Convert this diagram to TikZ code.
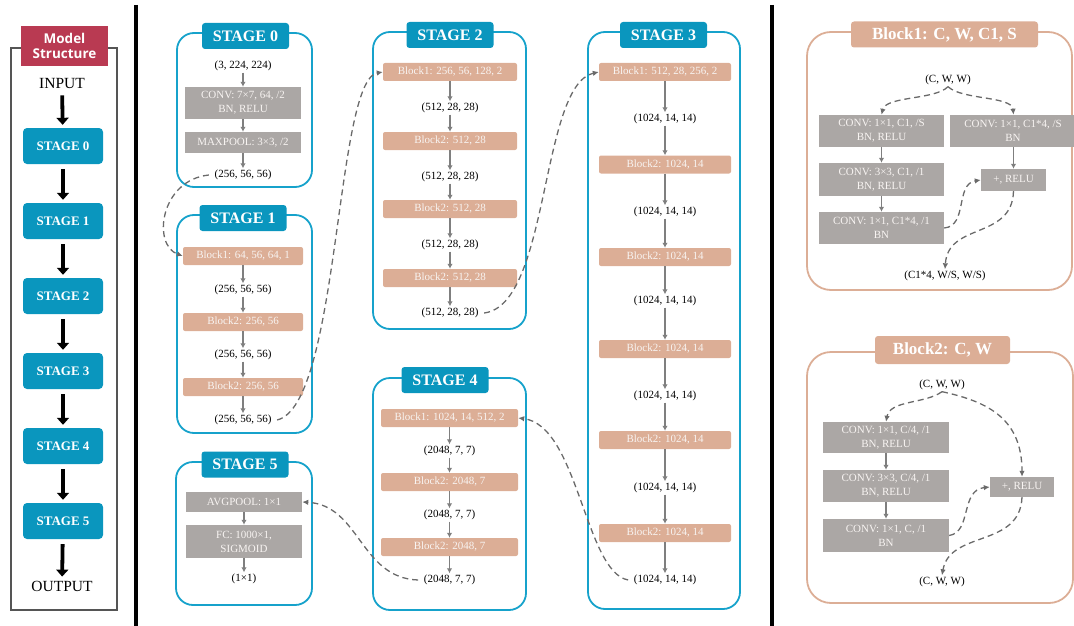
\documentclass[tikz,border=0pt]{standalone}
\usepackage{fontspec}
\setmainfont{Liberation Serif}
\newfontfamily\titlesans{Open Sans}
\usetikzlibrary{arrows.meta}
\definecolor{tealtab}{HTML}{0A96BE}
\definecolor{tealline}{HTML}{16A2CB}
\definecolor{salmon}{HTML}{DCAE96}
\definecolor{boxgray}{HTML}{ABA7A5}
\definecolor{crimson}{HTML}{B93A52}
\definecolor{framegray}{HTML}{555555}
\definecolor{argray}{HTML}{7F7F7F}
\definecolor{dashgray}{HTML}{6A6A6A}
\definecolor{boxtext}{HTML}{F8F4F2}
\begin{document}
\begin{tikzpicture}[x=1pt,y=-1pt,
  stagefr/.style={draw=tealline, line width=1.8pt, rounded corners=17pt, inner sep=0},
  blockfr/.style={draw=salmon, line width=1.8pt, rounded corners=24pt, inner sep=0},
  stagetab/.style={fill=tealtab, rounded corners=3pt, text=white, inner sep=0,
     minimum width=87, minimum height=26, font=\bfseries\fontsize{16}{18}\selectfont},
  blocktab/.style={fill=salmon, rounded corners=3pt, text=white, inner sep=0,
     minimum height=26, font=\bfseries\fontsize{17}{19}\selectfont},
  blk/.style={fill=salmon, rounded corners=2pt, text=boxtext, inner sep=0,
     minimum height=18, font=\fontsize{11}{13.5}\selectfont},
  gbox/.style={fill=boxgray, text=boxtext, inner sep=0, align=center,
     font=\fontsize{11}{14}\selectfont},
  dimtxt/.style={inner sep=1.5pt, font=\fontsize{11}{13}\selectfont},
  ar/.style={draw=argray, line width=1.3pt, -{Latex[length=5pt,width=5.5pt]}},
  dashar/.style={draw=dashgray, line width=1.3pt, dash pattern=on 6pt off 4pt,
     -{Latex[length=6pt,width=5.5pt]}},
  lstage/.style={fill=tealtab, rounded corners=4pt, text=white, inner sep=0,
     minimum width=80, minimum height=36, font=\bfseries\fontsize{13}{15}\selectfont},
  bigar/.style={draw=black, line width=3.8pt, -{Triangle[length=7pt,width=12pt]},
     shorten <=5pt, shorten >=3pt},
  sep/.style={draw=black, line width=4.5pt}
]
\useasboundingbox (0,0) rectangle (1074,626);

% separators
\coordinate (sepa1) at (136,5);
\coordinate (sepa2) at (136,626);
\coordinate (sepb1) at (772,5);
\coordinate (sepb2) at (772,626);
\draw[sep] (sepa1) -- (sepa2);
\draw[sep] (sepb1) -- (sepb2);

% ---------- left panel ----------
\node[draw=framegray, line width=2.2pt, minimum width=106, minimum height=562, inner sep=0] (lframe) at (64,329) {};
\node[fill=crimson, minimum width=87, minimum height=40, inner sep=0, text=white, align=center,
      font=\titlesans\bfseries\fontsize{13.5}{15}\selectfont] (title) at (64.5,46) {Model\\Structure};
\node[font=\fontsize{15.5}{17}\selectfont, inner sep=1pt] (input) at (62,84) {INPUT};
\node[lstage] (l0) at (63,146) {STAGE 0};
\node[lstage] (l1) at (63,221) {STAGE 1};
\node[lstage] (l2) at (63,296) {STAGE 2};
\node[lstage] (l3) at (63,371) {STAGE 3};
\node[lstage] (l4) at (63,446) {STAGE 4};
\node[lstage] (l5) at (63,521) {STAGE 5};
\node[font=\fontsize{15.5}{17}\selectfont, inner sep=1pt] (output) at (62,586) {OUTPUT};
\draw[bigar] (input) -- (l0);
\draw[bigar] (l0) -- (l1);
\draw[bigar] (l1) -- (l2);
\draw[bigar] (l2) -- (l3);
\draw[bigar] (l3) -- (l4);
\draw[bigar] (l4) -- (l5);
\draw[bigar] (l5) -- (output);

% ---------- STAGE 0 ----------
\node[stagefr, minimum width=135, minimum height=154] (s0f) at (244.5,110) {};
\node[stagetab] (s0t) at (245.5,36) {STAGE 0};
\node[dimtxt] (s0d0) at (243,66) {(3, 224, 224)};
\node[gbox, minimum width=116, minimum height=32] (s0c) at (243,103) {CONV: 7×7, 64, /2\\BN, RELU};
\node[gbox, minimum width=116, minimum height=21] (s0m) at (243,142.5) {MAXPOOL: 3×3, /2};
\node[dimtxt] (s0d1) at (243,175) {(256, 56, 56)};
\draw[ar] (s0d0) -- (s0c);
\draw[ar] (s0c) -- (s0m);
\draw[ar] (s0m) -- (s0d1);

% ---------- STAGE 1 ----------
\node[stagefr, minimum width=135, minimum height=218] (s1f) at (244.5,324) {};
\node[stagetab] (s1t) at (243,218) {STAGE 1};
\node[blk, minimum width=120] (s1b0) at (243,256) {Block1: 64, 56, 64, 1};
\node[dimtxt] (s1d0) at (243,290) {(256, 56, 56)};
\node[blk, minimum width=120] (s1b1) at (243,322) {Block2: 256, 56};
\node[dimtxt] (s1d1) at (243,355) {(256, 56, 56)};
\node[blk, minimum width=120] (s1b2) at (243,387) {Block2: 256, 56};
\node[dimtxt] (s1d2) at (243,420) {(256, 56, 56)};
\draw[ar] (s1b0) -- (s1d0);
\draw[ar] (s1d0) -- (s1b1);
\draw[ar] (s1b1) -- (s1d1);
\draw[ar] (s1d1) -- (s1b2);
\draw[ar] (s1b2) -- (s1d2);

% ---------- STAGE 5 ----------
\node[stagefr, minimum width=136, minimum height=143] (s5f) at (244,533.5) {};
\node[stagetab] (s5t) at (245,464.5) {STAGE 5};
\node[gbox, minimum width=116, minimum height=20] (s5a) at (244,502) {AVGPOOL: 1×1};
\node[gbox, minimum width=116, minimum height=33] (s5c) at (244,541.5) {FC: 1000×1,\\SIGMOID};
\node[dimtxt] (s5d) at (244,579) {(1×1)};
\draw[ar] (s5a) -- (s5c);
\draw[ar] (s5c) -- (s5d);

% ---------- STAGE 2 ----------
\node[stagefr, minimum width=153, minimum height=297] (s2f) at (449.5,180.5) {};
\node[stagetab] (s2t) at (450,35) {STAGE 2};
\node[blk, minimum width=134] (s2b0) at (450,72) {Block1: 256, 56, 128, 2};
\node[dimtxt] (s2d0) at (450,108) {(512, 28, 28)};
\node[blk, minimum width=134] (s2b1) at (450,141) {Block2: 512, 28};
\node[dimtxt] (s2d1) at (450,177) {(512, 28, 28)};
\node[blk, minimum width=134] (s2b2) at (450,209) {Block2: 512, 28};
\node[dimtxt] (s2d2) at (450,245) {(512, 28, 28)};
\node[blk, minimum width=134] (s2b3) at (450,278) {Block2: 512, 28};
\node[dimtxt] (s2d3) at (450,313) {(512, 28, 28)};
\draw[ar] (s2b0) -- (s2d0);
\draw[ar] (s2d0) -- (s2b1);
\draw[ar] (s2b1) -- (s2d1);
\draw[ar] (s2d1) -- (s2b2);
\draw[ar] (s2b2) -- (s2d2);
\draw[ar] (s2d2) -- (s2b3);
\draw[ar] (s2b3) -- (s2d3);

% ---------- STAGE 4 ----------
\node[stagefr, minimum width=153, minimum height=232] (s4f) at (449.5,494) {};
\node[stagetab] (s4t) at (445,380) {STAGE 4};
\node[blk, minimum width=137] (s4b0) at (449.5,418) {Block1: 1024, 14, 512, 2};
\node[dimtxt] (s4d0) at (449.5,451) {(2048, 7, 7)};
\node[blk, minimum width=137] (s4b1) at (449.5,482) {Block2: 2048, 7};
\node[dimtxt] (s4d1) at (449.5,515) {(2048, 7, 7)};
\node[blk, minimum width=137] (s4b2) at (449.5,547) {Block2: 2048, 7};
\node[dimtxt] (s4d2) at (449.5,580) {(2048, 7, 7)};
\draw[ar] (s4b0) -- (s4d0);
\draw[ar] (s4d0) -- (s4b1);
\draw[ar] (s4b1) -- (s4d1);
\draw[ar] (s4d1) -- (s4b2);
\draw[ar] (s4b2) -- (s4d2);

% ---------- STAGE 3 ----------
\node[stagefr, minimum width=152, minimum height=577] (s3f) at (664,320.5) {};
\node[stagetab] (s3t) at (663.5,35) {STAGE 3};
\node[blk, minimum width=132] (s3b0) at (665,72) {Block1: 512, 28, 256, 2};
\node[dimtxt] (s3d0) at (665,119) {(1024, 14, 14)};
\node[blk, minimum width=132] (s3b1) at (665,164.5) {Block2: 1024, 14};
\node[dimtxt] (s3d1) at (665,212) {(1024, 14, 14)};
\node[blk, minimum width=132] (s3b2) at (665,257) {Block2: 1024, 14};
\node[dimtxt] (s3d2) at (665,301) {(1024, 14, 14)};
\node[blk, minimum width=132] (s3b3) at (665,349) {Block2: 1024, 14};
\node[dimtxt] (s3d3) at (665,396) {(1024, 14, 14)};
\node[blk, minimum width=132] (s3b4) at (665,440) {Block2: 1024, 14};
\node[dimtxt] (s3d4) at (665,488) {(1024, 14, 14)};
\node[blk, minimum width=132] (s3b5) at (665,533) {Block2: 1024, 14};
\node[dimtxt] (s3d5) at (665,580) {(1024, 14, 14)};
\draw[ar] (s3b0) -- (s3d0);
\draw[ar] (s3d0) -- (s3b1);
\draw[ar] (s3b1) -- (s3d1);
\draw[ar] (s3d1) -- (s3b2);
\draw[ar] (s3b2) -- (s3d2);
\draw[ar] (s3d2) -- (s3b3);
\draw[ar] (s3b3) -- (s3d3);
\draw[ar] (s3d3) -- (s3b4);
\draw[ar] (s3b4) -- (s3d4);
\draw[ar] (s3d4) -- (s3b5);
\draw[ar] (s3b5) -- (s3d5);

% ---------- stage-to-stage dashed connectors ----------
\draw[dashar] ([xshift=-4pt]s0d1.west) .. controls (160,180) and (152,245) .. (s1b0.west);
\draw[dashar] ([xshift=4pt]s1d2.east) .. controls (340,405) and (335,80) .. (s2b0.west);
\draw[dashar] ([xshift=4pt]s2d3.east) .. controls (550,305) and (540,85) .. (s3b0.west);
\draw[dashar] ([xshift=-4pt]s3d5.west) .. controls (585,572) and (578,425) .. (s4b0.east);
\draw[dashar] ([xshift=-4pt]s4d2.west) .. controls (360,578) and (360,505) .. (s5a.east);

% ---------- Block1 panel ----------
\node[blockfr, minimum width=265, minimum height=258] (b1f) at (939.5,161) {};
\node[blocktab, minimum width=187] (b1t) at (944.5,34.5) {Block1: C, W, C1, S};
\node[dimtxt] (b1in) at (948,80) {(C, W, W)};
\node[gbox, minimum width=125, minimum height=32] (b1c1) at (881.5,131) {CONV: 1×1, C1, /S\\BN, RELU};
\node[gbox, minimum width=126, minimum height=32] (b1cs) at (1013,131) {CONV: 1×1, C1*4, /S\\BN};
\node[gbox, minimum width=125, minimum height=33] (b1c2) at (881.5,179.5) {CONV: 3×3, C1, /1\\BN, RELU};
\node[gbox, minimum width=125, minimum height=32] (b1c3) at (881.5,228) {CONV: 1×1, C1*4, /1\\BN};
\node[gbox, minimum width=65, minimum height=22] (b1add) at (1013.5,180) {+, RELU};
\node[dimtxt] (b1out) at (945,276) {(C1*4, W/S, W/S)};
\draw[ar] (b1c1) -- (b1c2);
\draw[ar] (b1c2) -- (b1c3);
\draw[ar] (b1cs.south -| b1add.north) -- (b1add.north);
\draw[dashar] (b1in.south) .. controls (935,100) and (886,96) .. (b1c1.north);
\draw[dashar] (b1in.south) .. controls (962,100) and (1012,96) .. (b1cs.north -| b1add.north);
\draw[dashar] (b1c3.east) .. controls (968,226) and (955,184) .. (b1add.west);
\draw[dashar] (b1add.south) .. controls (1012,240) and (948,222) .. (b1out.north);

% ---------- Block2 panel ----------
\node[blockfr, minimum width=266, minimum height=251] (b2f) at (940,477.5) {};
\node[blocktab, minimum width=135, minimum height=28] (b2t) at (942.5,350) {Block2: C, W};
\node[dimtxt] (b2in) at (942,385) {(C, W, W)};
\node[gbox, minimum width=126, minimum height=31] (b2c1) at (886,437.5) {CONV: 1×1, C/4, /1\\BN, RELU};
\node[gbox, minimum width=126, minimum height=32] (b2c2) at (886,486) {CONV: 3×3, C/4, /1\\BN, RELU};
\node[gbox, minimum width=126, minimum height=33] (b2c3) at (886,535.5) {CONV: 1×1, C, /1\\BN};
\node[gbox, minimum width=64, minimum height=20] (b2add) at (1022,487) {+, RELU};
\node[dimtxt] (b2out) at (942,582) {(C, W, W)};
\draw[ar] (b2c1) -- (b2c2);
\draw[ar] (b2c2) -- (b2c3);
\draw[dashar] (b2in.south) .. controls (925,404) and (890,400) .. (b2c1.north);
\draw[dashar] (b2in.south) .. controls (990,402) and (1022,420) .. (b2add.north);
\draw[dashar] (b2c3.east) .. controls (972,532) and (960,490) .. (b2add.west);
\draw[dashar] (b2add.south) .. controls (1020,548) and (950,530) .. (b2out.north);
\end{tikzpicture}
\end{document}
